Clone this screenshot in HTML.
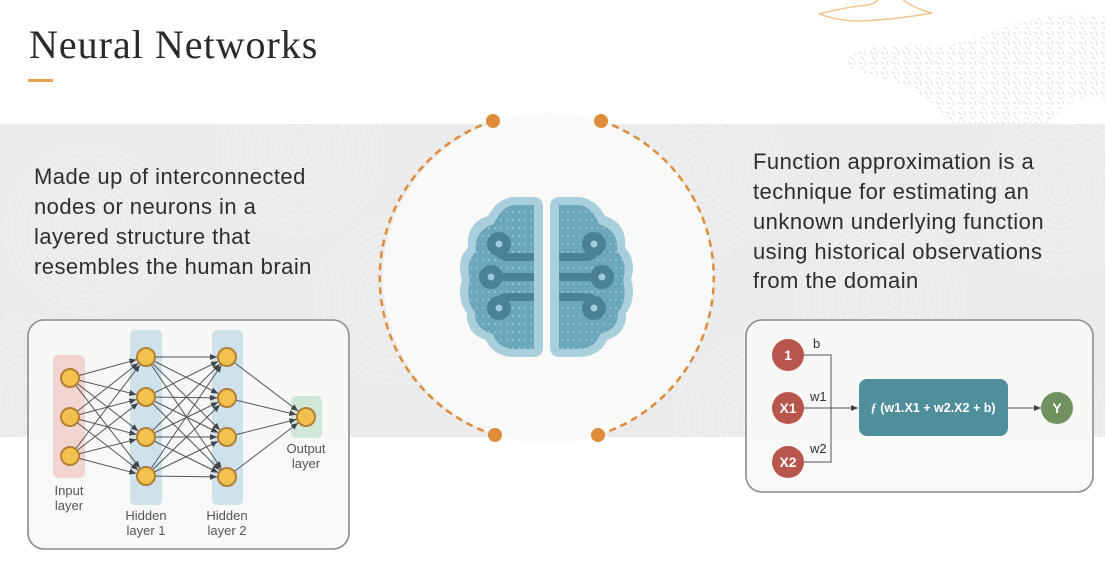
<!DOCTYPE html>
<html>
<head>
<meta charset="utf-8">
<style>
html,body{margin:0;padding:0;background:#fff;}
body{width:1105px;height:578px;overflow:hidden;}
svg{display:block;}
</style>
</head>
<body>
<svg width="1105" height="578" viewBox="0 0 1105 578" xmlns="http://www.w3.org/2000/svg">
<defs>
  <g id="rings" fill="none" stroke="#f2f2f2" stroke-width="1.1">
    <circle r="6"/><circle r="12"/><circle r="18"/><circle r="24"/><circle r="30"/>
    <circle r="36"/><circle r="42"/><circle r="48"/><circle r="54"/><circle r="60"/>
    <circle r="66"/><circle r="72"/><circle r="78"/><circle r="84"/>
  </g>
  <clipPath id="bandclip"><rect x="0" y="124" width="1105" height="313"/></clipPath>
  <pattern id="dashp" width="11" height="10" patternUnits="userSpaceOnUse">
    <line x1="1" y1="2" x2="4" y2="4" stroke="#e2e2e2" stroke-width="1.1" stroke-linecap="round"/>
    <line x1="7" y1="1" x2="8" y2="5" stroke="#e2e2e2" stroke-width="1.1" stroke-linecap="round"/>
    <line x1="3" y1="7" x2="6" y2="9" stroke="#e2e2e2" stroke-width="1.1" stroke-linecap="round"/>
  </pattern>
  <pattern id="bd" width="6" height="8" patternUnits="userSpaceOnUse">
    <circle cx="3" cy="4" r="1" fill="#93c4d2"/>
  </pattern>
  <marker id="ah" markerUnits="userSpaceOnUse" markerWidth="7" markerHeight="6" viewBox="0 0 7 6" refX="17" refY="3" orient="auto">
    <path d="M0,0 L7,3 L0,6 z" fill="#444"/>
  </marker>
  <marker id="ah2" markerUnits="userSpaceOnUse" markerWidth="7" markerHeight="6" viewBox="0 0 7 6" refX="7" refY="3" orient="auto">
    <path d="M0,0 L7,3 L0,6 z" fill="#444"/>
  </marker>
  <g id="half">
    <path d="M533,197 Q543,197 543,207 L543,347 Q543,357 533,357 L515,357 C500,357 490,350 486,340 C472,336 466,325 467,313 C460,305 458,290 462,280 C458,268 460,255 468,248 C466,232 474,220 488,216 C494,204 505,197 515,197 Z" fill="#a9cfdc"/>
    <path d="M534,205 L534,349 L515,349 C503,349 496,343 493,334 C480,331 474,322 475,312 C468,305 467,292 470,280 C467,270 468,258 476,252 C474,238 481,228 494,224 C499,212 507,205 515,205 Z" fill="#69a7b9"/>
    <path d="M534,205 L534,349 L515,349 C503,349 496,343 493,334 C480,331 474,322 475,312 C468,305 467,292 470,280 C467,270 468,258 476,252 C474,238 481,228 494,224 C499,212 507,205 515,205 Z" fill="url(#bd)"/>
    <g stroke="#4a8197" stroke-width="8" fill="none">
      <path d="M499,244 L499,250 Q499,257 507,257 L534,257"/>
      <path d="M491,277 L534,277"/>
      <path d="M499,308 L499,304 Q499,297 507,297 L534,297"/>
    </g>
    <g fill="#4a8197">
      <circle cx="499" cy="244" r="12"/>
      <circle cx="491" cy="277" r="12"/>
      <circle cx="499" cy="308" r="12"/>
    </g>
    <g fill="#9fcad7">
      <circle cx="499" cy="244" r="3.5"/>
      <circle cx="491" cy="277" r="3.5"/>
      <circle cx="499" cy="308" r="3.5"/>
    </g>
  </g>
</defs>

<rect width="1105" height="578" fill="#ffffff"/>

<!-- top-right decoration -->
<path d="M843,60 C860,45 900,42 930,45 C960,48 990,30 1020,22 C1050,12 1080,14 1105,16 L1105,98 C1080,95 1060,105 1050,124 L950,124 C940,105 910,85 880,78 C860,72 845,68 843,60 Z" fill="url(#dashp)"/>
<path d="M819,14 C835,10 855,6 868,5 C873,4 876,2 878,0 M903,0 C910,5 920,10 932,13 C915,16 890,20 860,21 C840,21 828,17 819,14" fill="none" stroke="#f0c890" stroke-width="1.6"/>

<!-- title -->
<text x="29" y="58" font-family="Liberation Serif, serif" font-size="40" letter-spacing="1" fill="#2a2a2a">Neural Networks</text>
<rect x="28" y="79" width="25" height="3" fill="#e3a24c"/>

<!-- band -->
<rect x="0" y="124" width="1105" height="313" fill="#ebebeb"/>
<g clip-path="url(#bandclip)">
  <use href="#rings" x="90" y="230"/>
  <use href="#rings" x="300" y="150"/>
  <use href="#rings" x="220" y="420"/>
  <use href="#rings" x="30" y="400"/>
  <use href="#rings" x="700" y="170"/>
  <use href="#rings" x="880" y="300"/>
  <use href="#rings" x="1060" y="190"/>
  <use href="#rings" x="760" y="420"/>
  <use href="#rings" x="1020" y="420"/>
  <use href="#rings" x="400" y="300"/>
</g>

<!-- central circle -->
<circle cx="548" cy="278" r="165" fill="#f9f9f7"/>
<path d="M493,121 A165,165 0 0 0 495,435" fill="none" stroke="#dd8c3b" stroke-width="2.5" stroke-dasharray="7 5"/>
<path d="M601,121 A165,165 0 0 1 598,435" fill="none" stroke="#dd8c3b" stroke-width="2.5" stroke-dasharray="7 5"/>
<circle cx="493" cy="121" r="7" fill="#df8d3a"/>
<circle cx="601" cy="121" r="7" fill="#df8d3a"/>
<circle cx="495" cy="435" r="7" fill="#df8d3a"/>
<circle cx="598" cy="435" r="7" fill="#df8d3a"/>

<!-- brain -->
<use href="#half"/>
<use href="#half" transform="translate(1093,0) scale(-1,1)"/>

<!-- paragraphs -->
<g font-family="Liberation Sans, sans-serif" font-size="22" letter-spacing="0.45" fill="#2e2e2e">
  <text x="34" y="184">Made up of interconnected</text>
  <text x="34" y="214">nodes or neurons in a</text>
  <text x="34" y="244">layered structure that</text>
  <text x="34" y="274">resembles the human brain</text>
  <text x="753" y="169">Function approximation is a</text>
  <text x="753" y="199">technique for estimating an</text>
  <text x="753" y="229">unknown underlying function</text>
  <text x="753" y="259">using historical observations</text>
  <text x="753" y="288">from the domain</text>
</g>

<!-- left box -->
<rect x="28" y="320" width="321" height="229" rx="16" fill="#f8f8f6" fill-opacity="0.93" stroke="#8c8c8c" stroke-width="1.6"/>
<rect x="53" y="355" width="32" height="123" rx="5" fill="#f2d4d0"/>
<rect x="130" y="330" width="32" height="175" rx="5" fill="#cde2eb"/>
<rect x="212" y="330" width="31" height="175" rx="5" fill="#cde2eb"/>
<rect x="291" y="396" width="31" height="42" rx="5" fill="#cfe8d7"/>

<g stroke="#555" stroke-width="1" marker-end="url(#ah)">
  <line x1="70" y1="378" x2="146" y2="357"/><line x1="70" y1="378" x2="146" y2="397"/><line x1="70" y1="378" x2="146" y2="437"/><line x1="70" y1="378" x2="146" y2="476"/>
  <line x1="70" y1="417" x2="146" y2="357"/><line x1="70" y1="417" x2="146" y2="397"/><line x1="70" y1="417" x2="146" y2="437"/><line x1="70" y1="417" x2="146" y2="476"/>
  <line x1="70" y1="456" x2="146" y2="357"/><line x1="70" y1="456" x2="146" y2="397"/><line x1="70" y1="456" x2="146" y2="437"/><line x1="70" y1="456" x2="146" y2="476"/>
  <line x1="146" y1="357" x2="227" y2="357"/><line x1="146" y1="357" x2="227" y2="398"/><line x1="146" y1="357" x2="227" y2="437"/><line x1="146" y1="357" x2="227" y2="477"/>
  <line x1="146" y1="397" x2="227" y2="357"/><line x1="146" y1="397" x2="227" y2="398"/><line x1="146" y1="397" x2="227" y2="437"/><line x1="146" y1="397" x2="227" y2="477"/>
  <line x1="146" y1="437" x2="227" y2="357"/><line x1="146" y1="437" x2="227" y2="398"/><line x1="146" y1="437" x2="227" y2="437"/><line x1="146" y1="437" x2="227" y2="477"/>
  <line x1="146" y1="476" x2="227" y2="357"/><line x1="146" y1="476" x2="227" y2="398"/><line x1="146" y1="476" x2="227" y2="437"/><line x1="146" y1="476" x2="227" y2="477"/>
  <line x1="227" y1="357" x2="306" y2="417"/><line x1="227" y1="398" x2="306" y2="417"/><line x1="227" y1="437" x2="306" y2="417"/><line x1="227" y1="477" x2="306" y2="417"/>
</g>
<g fill="#f2c14e" stroke="#b47f36" stroke-width="2">
  <circle cx="70" cy="378" r="9"/><circle cx="70" cy="417" r="9"/><circle cx="70" cy="456" r="9"/>
  <circle cx="146" cy="357" r="9"/><circle cx="146" cy="397" r="9"/><circle cx="146" cy="437" r="9"/><circle cx="146" cy="476" r="9"/>
  <circle cx="227" cy="357" r="9"/><circle cx="227" cy="398" r="9"/><circle cx="227" cy="437" r="9"/><circle cx="227" cy="477" r="9"/>
  <circle cx="306" cy="417" r="9"/>
</g>
<g font-family="Liberation Sans, sans-serif" font-size="13" fill="#555" text-anchor="middle">
  <text x="69" y="495">Input</text><text x="69" y="510">layer</text>
  <text x="146" y="520">Hidden</text><text x="146" y="535">layer 1</text>
  <text x="227" y="520">Hidden</text><text x="227" y="535">layer 2</text>
  <text x="306" y="453">Output</text><text x="306" y="468">layer</text>
</g>

<!-- right box -->
<rect x="746" y="320" width="347" height="172" rx="16" fill="#f8f8f6" fill-opacity="0.93" stroke="#8c8c8c" stroke-width="1.6"/>
<g stroke="#555" stroke-width="1" fill="none">
  <polyline points="803,355 831,355 831,462 803,462"/>
  <line x1="803" y1="408" x2="858" y2="408" marker-end="url(#ah2)"/>
  <line x1="1008" y1="408" x2="1041" y2="408" marker-end="url(#ah2)"/>
</g>
<g fill="#b8554c">
  <circle cx="788" cy="355" r="16"/>
  <circle cx="788" cy="408" r="16"/>
  <circle cx="788" cy="462" r="16"/>
</g>
<circle cx="1057" cy="408" r="16" fill="#6f9160"/>
<rect x="859" y="379" width="149" height="57" rx="8" fill="#4f8f9b"/>
<g font-family="Liberation Sans, sans-serif" font-weight="bold" fill="#fff" text-anchor="middle">
  <text x="788" y="360" font-size="14">1</text>
  <text x="788" y="413" font-size="14">X1</text>
  <text x="788" y="467" font-size="14">X2</text>
  <text x="1057" y="413" font-size="14">Y</text>
  <text x="933" y="412" font-size="12.5"><tspan font-family="Liberation Serif, serif" font-style="italic">ƒ</tspan> (w1.X1 + w2.X2 + b)</text>
</g>
<g font-family="Liberation Sans, sans-serif" font-size="13" fill="#333">
  <text x="813" y="348">b</text>
  <text x="810" y="401">w1</text>
  <text x="810" y="453">w2</text>
</g>
</svg>
</body>
</html>
